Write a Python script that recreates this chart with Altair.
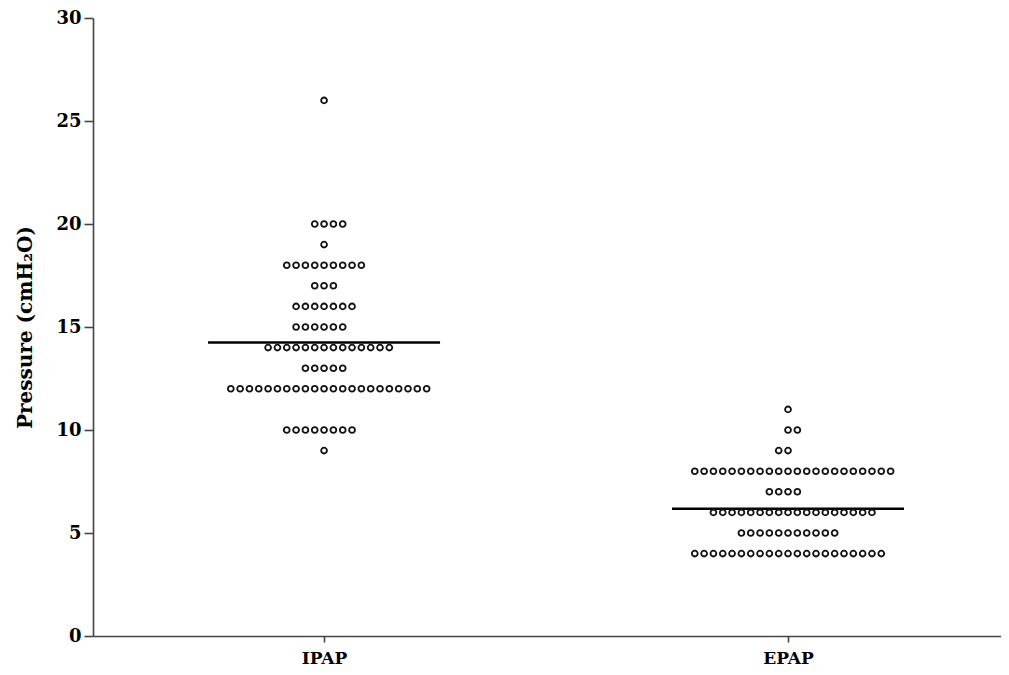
import altair as alt
import pandas as pd

groups = ["IPAP", "EPAP"]
ipap_values = [26, 20, 19, 18, 17, 16, 15, 14, 13, 12, 10, 9]
ipap_counts = [1, 4, 1, 9, 3, 7, 6, 14, 5, 22, 8, 1]
epap_values = [11, 10, 9, 8, 7, 6, 5, 4]
epap_counts = [1, 2, 2, 22, 4, 18, 11, 21]
# rows with even counts that lean left instead of right
left_lean = {"IPAP": [15, 10], "EPAP": [9, 7]}
y_ticks = [0, 5, 10, 15, 20, 25, 30]

SPACING = 0.0201  # horizontal step between dots (x units)

rows = []
for gi, (g, vals, cnts) in enumerate(
    [("IPAP", ipap_values, ipap_counts), ("EPAP", epap_values, epap_counts)]
):
    for v, n in zip(vals, cnts):
        if n % 2 == 1:
            start = -(n // 2)
        elif v in left_lean[g]:
            start = -(n // 2)
        else:
            start = -(n // 2 - 1)
        for k in range(n):
            rows.append({"group": g, "idx": gi, "value": v,
                         "xpos": gi + (start + k) * SPACING})
df = pd.DataFrame(rows)

xscale = alt.Scale(domain=[-0.498, 1.459], nice=False, zero=False)
yscale = alt.Scale(domain=[0, 30], nice=False, zero=True)

FONT = "DejaVu Serif"

points = alt.Chart(df).mark_point(
    shape="circle", filled=False, size=34, stroke="#111", strokeWidth=1.8, opacity=1
).encode(
    x=alt.X("xpos:Q", scale=xscale,
            axis=alt.Axis(values=[0, 1], title=None, grid=False,
                          labelExpr="datum.value == 0 ? 'IPAP' : 'EPAP'",
                          labelFont=FONT, labelFontWeight="bold", labelFontSize=17,
                          labelColor="#000", labelPadding=8, tickSize=6,
                          tickColor="#444", domainColor="#444", domainWidth=1.6,
                          tickWidth=1.6)),
    y=alt.Y("value:Q", scale=yscale,
            axis=alt.Axis(values=y_ticks, grid=False, title="Pressure (cmH₂O)",
                          titleFont=FONT, titleFontWeight="bold", titleFontSize=20,
                          titleColor="#000", titleX=-68, titleY=309,
                          titleAngle=-90, titleAlign="center", titleBaseline="middle",
                          labelFont=FONT, labelFontWeight="bold", labelFontSize=18,
                          labelColor="#000", labelPadding=3, tickSize=9,
                          tickColor="#444", domainColor="#444", domainWidth=1.6,
                          tickWidth=1.6)),
)

means = alt.Chart(df).transform_aggregate(
    mean_v="mean(value)", groupby=["group", "idx"]
).transform_calculate(
    x1="datum.idx - 0.25", x2="datum.idx + 0.25"
).mark_rule(color="black", strokeWidth=2.5).encode(
    x=alt.X("x1:Q", scale=xscale),
    x2="x2:Q",
    y=alt.Y("mean_v:Q", scale=yscale),
)

chart = alt.layer(means, points).properties(
    width=908, height=618,
    background="white",
    autosize=alt.AutoSizeParams(type="none"),
    padding={"left": 85, "top": 10, "right": 0, "bottom": 31},
).configure_view(stroke=None)

chart.save("out.html", embed_options={"renderer": "svg", "actions": False})
